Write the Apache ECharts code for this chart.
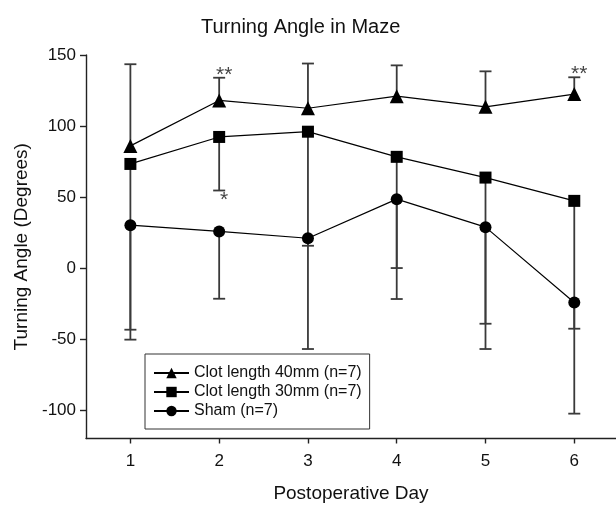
<!DOCTYPE html>
<html>
<head>
<meta charset="utf-8">
<script src="https://cdn.jsdelivr.net/npm/echarts@6/dist/echarts.min.js"></script>
<style>
html,body{margin:0;padding:0;background:#fff;}
#chart{width:616px;height:509px;}
</style>
</head>
<body>
<div id="chart"></div>
<script>
var days = [1, 2, 3, 4, 5, 6];
var yTicks = [-100, -50, 0, 50, 100, 150];

var clot40 = [86, 118, 112.5, 121, 113.5, 122.5];
var clot40Upper = [143.5, 134, 144, 142.7, 138.5, 134.3];
var clot30 = [73.3, 92.3, 96, 78.3, 63.7, 47.3];
var clot30Lower = [-50.4, 54.6, -57, 0, -57, -42.7];
var sham = [30.2, 25.8, 21, 48.5, 28.8, -24.2];
var shamLower = [-43.4, -21.6, 15.7, -21.8, -39.2, -102.5];

// significance marks: [day, value, text, side]
var marks = [
    [2, 134, '**', 'top'],
    [2, 54.6, '*', 'bottom'],
    [6, 134.3, '**', 'top']
];

var font = '"Liberation Sans", Arial, sans-serif';

function pairs(ys) {
    var out = [];
    for (var i = 0; i < days.length; i++) out.push([days[i], ys[i]]);
    return out;
}
function errData(mean, bound) {
    var out = [];
    for (var i = 0; i < days.length; i++) out.push([days[i], mean[i], bound[i]]);
    return out;
}

var errItem = function (params, api) {
    var x = api.value(0);
    var p0 = api.coord([x, api.value(1)]);
    var p1 = api.coord([x, api.value(2)]);
    var half = 6;
    var style = {stroke: '#3a3a3a', lineWidth: 1.8};
    return {
        type: 'group',
        children: [
            {type: 'line', shape: {x1: p0[0], y1: p0[1], x2: p1[0], y2: p1[1]}, style: style},
            {type: 'line', shape: {x1: p1[0] - half, y1: p1[1], x2: p1[0] + half, y2: p1[1]}, style: style}
        ]
    };
};

function lineSeries(name, ys, symbol, size) {
    return {
        name: name,
        type: 'line',
        data: pairs(ys),
        symbol: symbol,
        symbolSize: size,
        z: 3,
        lineStyle: {color: '#000', width: 1.2},
        itemStyle: {color: '#000'}
    };
}
function errSeries(mean, bound) {
    return {
        type: 'custom',
        renderItem: errItem,
        data: errData(mean, bound),
        z: 2,
        silent: true
    };
}

var chart = echarts.init(document.getElementById('chart'));
var option = {
    backgroundColor: '#fff',
    animation: false,
    title: {
        text: 'Turning Angle in Maze',
        left: 196,
        top: 12,
        textStyle: {fontFamily: font, fontSize: 20, fontWeight: 'normal', color: '#111'}
    },
    legend: {
        orient: 'vertical',
        left: 145,
        top: 354,
        padding: [11, 8, 10, 8],
        itemWidth: 35,
        itemHeight: 13,
        itemGap: 3,
        borderColor: '#333',
        borderWidth: 1,
        textStyle: {fontFamily: font, fontSize: 16, color: '#111', lineHeight: 16},
        data: ['Clot length 40mm (n=7)', 'Clot length 30mm (n=7)', 'Sham (n=7)']
    },
    grid: {left: 86, right: 0, top: 55, bottom: 70.5},
    xAxis: {
        type: 'value',
        min: 0.5,
        max: 6.47,
        name: 'Postoperative Day',
        nameLocation: 'middle',
        nameGap: 46,
        nameTextStyle: {fontFamily: font, fontSize: 19, color: '#111'},
        splitLine: {show: false},
        axisLine: {onZero: false, lineStyle: {color: '#222', width: 1.4}},
        axisTick: {customValues: days, length: 5, lineStyle: {color: '#222', width: 1.4}},
        axisLabel: {customValues: days, margin: 14, fontFamily: font, fontSize: 17, color: '#111'}
    },
    yAxis: {
        type: 'value',
        min: -120,
        max: 150,
        name: 'Turning Angle (Degrees)',
        nameLocation: 'middle',
        nameGap: 54,
        nameTextStyle: {fontFamily: font, fontSize: 19, color: '#111'},
        splitLine: {show: false},
        axisLine: {show: true, onZero: false, lineStyle: {color: '#222', width: 1.4}},
        axisTick: {show: true, customValues: yTicks, length: 6, lineStyle: {color: '#222', width: 1.4}},
        axisLabel: {customValues: yTicks, margin: 10, fontFamily: font, fontSize: 17, color: '#111'}
    },
    series: [
        errSeries(clot40, clot40Upper),
        errSeries(clot30, clot30Lower),
        errSeries(sham, shamLower),
        lineSeries('Clot length 40mm (n=7)', clot40, 'triangle', 14),
        lineSeries('Clot length 30mm (n=7)', clot30, 'rect', 12),
        lineSeries('Sham (n=7)', sham, 'circle', 12),
        {
            type: 'scatter',
            symbolSize: 1,
            itemStyle: {color: 'rgba(0,0,0,0)'},
            silent: true,
            z: 4,
            data: marks.map(function (m) {
                return {
                    value: [m[0], m[1]],
                    label: {
                        show: true,
                        formatter: m[2],
                        position: m[3],
                        distance: m[3] === 'top' ? -8 : -1,
                        offset: [5, 0],
                        fontFamily: font,
                        fontSize: 21,
                        color: '#111'
                    }
                };
            })
        }
    ]
};
chart.setOption(option);
</script>
</body>
</html>
